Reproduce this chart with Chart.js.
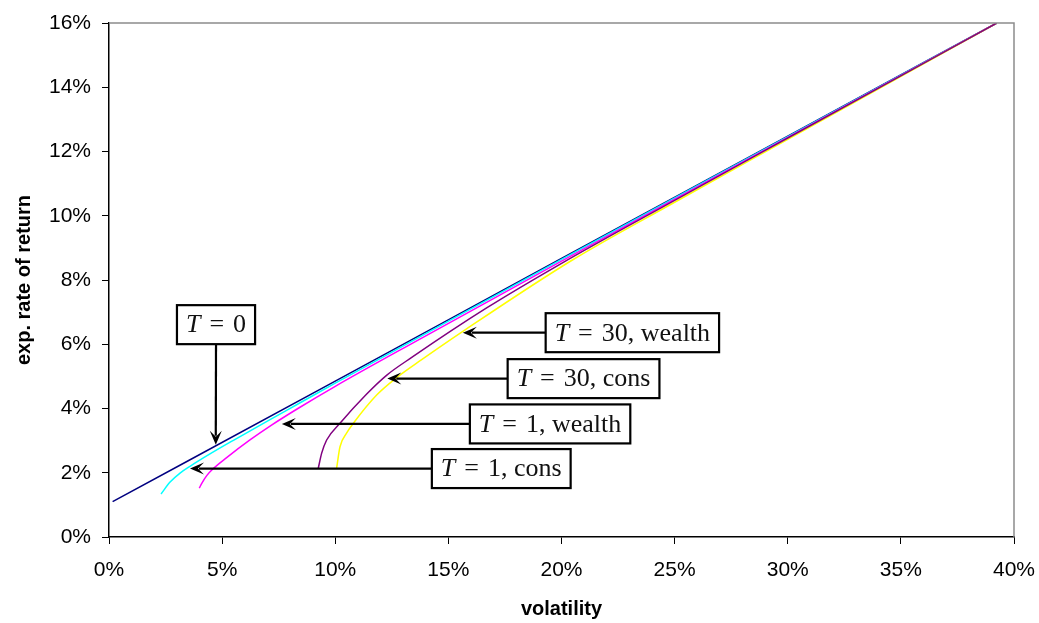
<!DOCTYPE html>
<html>
<head>
<meta charset="utf-8">
<script src="https://cdn.jsdelivr.net/npm/chart.js@4/dist/chart.umd.min.js"></script>
<style>
  body { margin: 0; background: #fff; }
</style>
</head>
<body>
<canvas id="chart" width="1039" height="623"></canvas>
<script>
// values in percent
const xTicks = [0, 5, 10, 15, 20, 25, 30, 35, 40];
const yTicks = [0, 2, 4, 6, 8, 10, 12, 14, 16];

const t0Vol = [0.16, 10, 20, 30, 39.24];
const t0Ret = [1.10, 4.85, 8.67, 12.48, 16.0];

const t1ConsVol = [2.30, 2.70, 3.14, 3.58, 4.5, 5.5, 7, 8.35, 10, 15, 20, 30, 39.24];
const t1ConsRet = [1.34, 1.71, 1.99, 2.20, 2.60, 3.01, 3.61, 4.14, 4.79, 6.72, 8.64, 12.46, 16.0];

const t1WealthVol = [3.99, 4.10, 4.32, 4.61, 5.2, 6.23, 7.2, 8.35, 10, 13.74, 20, 30, 39.24];
const t1WealthRet = [1.52, 1.67, 1.91, 2.13, 2.47, 3.02, 3.49, 4.00, 4.69, 6.16, 8.59, 12.44, 16.0];

const t30ConsVol = [9.25, 9.40, 9.62, 10.21, 11.39, 12.28, 13.38, 16.69, 20.08, 25, 30, 39.24];
const t30ConsRet = [2.14, 2.61, 3.02, 3.54, 4.45, 5.04, 5.59, 7.13, 8.55, 10.48, 12.42, 16.0];

const t30WealthVol = [10.06, 10.21, 10.50, 10.80, 11.83, 12.71, 13.82, 15.64, 20.5, 25, 30, 39.24];
const t30WealthRet = [2.14, 2.81, 3.23, 3.54, 4.42, 4.96, 5.52, 6.40, 8.63, 10.42, 12.38, 16.0];

// callout labels: arrow tip and box anchor, both in data units
const notes = [
  { num: '0', rest: '', tip: [4.72, 2.87], box: [4.73, 6.61], down: true },
  { num: '30', rest: ', wealth', tip: [15.64, 6.36], box: [19.3, 6.36] },
  { num: '30', rest: ', cons', tip: [12.30, 4.93], box: [17.62, 4.93] },
  { num: '1', rest: ', wealth', tip: [7.64, 3.52], box: [15.95, 3.52] },
  { num: '1', rest: ', cons', tip: [3.58, 2.13], box: [14.27, 2.13] }
];

const pts = (xs, ys) => xs.map((v, i) => ({ x: v, y: ys[i] }));

function arrowHead(ctx, tx, ty, dx, dy) {
  const nx = -dy, ny = dx;
  ctx.beginPath();
  ctx.moveTo(tx, ty);
  ctx.lineTo(tx - dx * 14 + nx * 6, ty - dy * 14 + ny * 6);
  ctx.lineTo(tx - dx * 8, ty - dy * 8);
  ctx.lineTo(tx - dx * 14 - nx * 6, ty - dy * 14 - ny * 6);
  ctx.closePath();
  ctx.fill();
}

const frameAndNotes = {
  id: 'frameAndNotes',
  afterDatasetsDraw(chart) {
    const { ctx, chartArea: a, scales: { x, y } } = chart;
    ctx.save();
    ctx.strokeStyle = '#8c8c8c';
    ctx.lineWidth = 1.5;
    ctx.beginPath();
    ctx.moveTo(a.left, a.top);
    ctx.lineTo(a.right, a.top);
    ctx.lineTo(a.right, a.bottom);
    ctx.stroke();

    const itFont = 'italic 26px "Liberation Serif"';
    const rmFont = '26px "Liberation Serif"';
    const pad = 9, h = 39, gap = 9;
    ctx.textBaseline = 'middle';
    notes.forEach(n => {
      ctx.font = itFont;
      const wT = ctx.measureText('T').width;
      ctx.font = rmFont;
      const wEq = ctx.measureText('=').width;
      const wRest = ctx.measureText(n.num + n.rest).width;
      const w = wT + gap + wEq + gap + wRest + 2 * pad;
      const tx = x.getPixelForValue(n.tip[0]);
      const ty = y.getPixelForValue(n.tip[1]);
      let bx = x.getPixelForValue(n.box[0]);
      const by = y.getPixelForValue(n.box[1]) - h / 2;
      if (n.down) bx -= w / 2;
      // arrow
      ctx.strokeStyle = '#000';
      ctx.fillStyle = '#000';
      ctx.lineWidth = 2.2;
      ctx.beginPath();
      if (n.down) {
        ctx.moveTo(bx + w / 2, by + h);
        ctx.lineTo(tx, ty - 9);
        ctx.stroke();
        arrowHead(ctx, tx, ty, 0, 1);
      } else {
        ctx.moveTo(bx, by + h / 2);
        ctx.lineTo(tx + 9, ty);
        ctx.stroke();
        arrowHead(ctx, tx, ty, -1, 0);
      }
      // box
      ctx.fillStyle = '#fff';
      ctx.fillRect(bx, by, w, h);
      ctx.strokeRect(bx, by, w, h);
      // text
      ctx.fillStyle = '#111';
      let cx = bx + pad;
      const cy = by + h / 2 + 1;
      ctx.textAlign = 'left';
      ctx.font = itFont;
      ctx.fillText('T', cx, cy);
      cx += wT + gap;
      ctx.font = rmFont;
      ctx.fillText('=', cx, cy);
      cx += wEq + gap;
      ctx.fillText(n.num + n.rest, cx, cy);
    });
    ctx.restore();
  }
};

const lineStyle = (color, order) => ({
  borderColor: color,
  borderWidth: 1.5,
  pointRadius: 0,
  fill: false,
  cubicInterpolationMode: 'monotone',
  order: order
});

const tickFont = { family: '"Liberation Sans", Arial, sans-serif', size: 21 };
const titleFont = { family: '"Liberation Sans", Arial, sans-serif', size: 20, weight: 'bold' };

new Chart(document.getElementById('chart'), {
  type: 'line',
  data: {
    datasets: [
      { label: 'T = 0', data: pts(t0Vol, t0Ret), ...lineStyle('#000080', 5) },
      { label: 'T = 1, cons', data: pts(t1ConsVol, t1ConsRet), ...lineStyle('#00FFFF', 4) },
      { label: 'T = 1, wealth', data: pts(t1WealthVol, t1WealthRet), ...lineStyle('#FF00FF', 3) },
      { label: 'T = 30, wealth', data: pts(t30WealthVol, t30WealthRet), ...lineStyle('#FFFF00', 2) },
      { label: 'T = 30, cons', data: pts(t30ConsVol, t30ConsRet), ...lineStyle('#800080', 1) }
    ]
  },
  options: {
    responsive: false,
    animation: false,
    layout: { padding: { top: 23, right: 25, left: 0, bottom: 0 } },
    plugins: { legend: { display: false }, tooltip: { enabled: false } },
    scales: {
      x: {
        type: 'linear',
        min: 0, max: 40,
        afterBuildTicks: s => { s.ticks = xTicks.map(v => ({ value: v })); },
        afterFit: s => { s.height = 86; s.paddingLeft = 0; s.paddingRight = 0; },
        grid: { drawOnChartArea: false, drawTicks: true, tickLength: 7, color: '#000' },
        border: { color: '#000', width: 1.5 },
        ticks: { color: '#000', padding: 14, font: tickFont, callback: v => v + '%' },
        title: {
          display: true, text: 'volatility', color: '#000', font: titleFont,
          padding: { top: 0, bottom: 2 }
        }
      },
      y: {
        type: 'linear',
        min: 0, max: 16,
        afterBuildTicks: s => { s.ticks = yTicks.map(v => ({ value: v })); },
        afterFit: s => { s.width = 109; s.paddingTop = 0; s.paddingBottom = 0; },
        grid: { drawOnChartArea: false, drawTicks: true, tickLength: 7, color: '#000' },
        border: { color: '#000', width: 1.5 },
        ticks: { color: '#000', padding: 11, font: tickFont, callback: v => v + '%' },
        title: {
          display: true, text: 'exp. rate of return', color: '#000', font: titleFont,
          padding: { top: 12, bottom: 0 }
        }
      }
    }
  },
  plugins: [frameAndNotes]
});
</script>
</body>
</html>
